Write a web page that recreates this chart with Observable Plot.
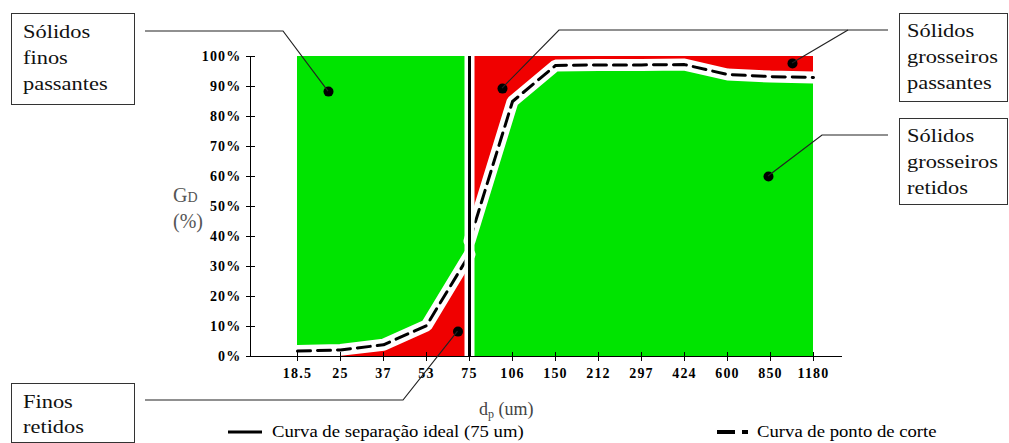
<!DOCTYPE html>
<html><head><meta charset="utf-8">
<script src="https://cdn.jsdelivr.net/npm/d3@7"></script>
<script src="https://cdn.jsdelivr.net/npm/@observablehq/plot@0.6"></script>
<style>body{margin:0;background:#fff} svg{display:block}</style>
</head><body><div id="chart"></div>
<script>
// Particle sizes (um) — categories of the x axis
const sizes = ["18.5","25","37","53","75","106","150","212","297","424","600","850","1180"];
// Fine side (d <= 75 um): cut-point curve values (fraction)
const fineSizes = ["18.5","25","37","53","75"];
const fineCut = [0.018, 0.022, 0.039, 0.103, 0.34];
// Coarse side (d >= 75 um)
const coarseSizes = ["75","106","150","212","297","424","600","850","1180"];
const coarseCut = [0.385, 0.85, 0.97, 0.972, 0.972, 0.973, 0.94, 0.933, 0.93];
// Ideal separation size
const idealSize = "75";
// Y tick values
const yTicks = [0, 0.1, 0.2, 0.3, 0.4, 0.5, 0.6, 0.7, 0.8, 0.9, 1];
// Annotation dot anchors
const dotSizes = ["18.5", "53", "106", "850", "850"];
const dotValues = [0.883, 0.083, 0.893, 0.977, 0.6];
const dotShift = [31, 31.5, -10, 22, -2];

const green = "#00e400", red = "#f00000";
const fine = fineSizes.map((s, i) => ({size: s, cut: fineCut[i]}));
const coarse = coarseSizes.map((s, i) => ({size: s, cut: coarseCut[i]}));
const dots = dotSizes.map((s, i) => ({size: s, v: dotValues[i], dx: dotShift[i]}));

const serif = "'Liberation Serif', 'Times New Roman', serif";
const plot = Plot.plot({
  width: 1009, height: 443,
  marginLeft: 250, marginRight: 167, marginTop: 56, marginBottom: 87,
  style: {fontFamily: serif, fontSize: "14px", fontWeight: "bold", letterSpacing: "1.2px", color: "#000", background: "#fff", overflow: "visible"},
  x: {type: "point", domain: sizes, range: [270, 840], label: null},
  y: {domain: [0, 1], label: null},
  marks: [
    Plot.areaY(fine, {x: "size", y1: 0, y2: "cut", fill: red}),
    Plot.areaY(fine, {x: "size", y1: "cut", y2: 1, fill: green}),
    Plot.areaY(coarse, {x: "size", y1: 0, y2: "cut", fill: green}),
    Plot.areaY(coarse, {x: "size", y1: "cut", y2: 1, fill: red}),
    Plot.line(fine, {x: "size", y: "cut", stroke: "white", strokeWidth: 12, strokeLinejoin: "miter"}),
    Plot.line(coarse, {x: "size", y: "cut", stroke: "white", strokeWidth: 12, strokeLinejoin: "miter"}),
    Plot.line(fine, {x: "size", y: "cut", stroke: "black", strokeWidth: 3, strokeDasharray: "13,7"}),
    Plot.line(coarse, {x: "size", y: "cut", stroke: "black", strokeWidth: 3, strokeDasharray: "13,7"}),
    Plot.ruleX([idealSize], {x: d => d, y1: 0, y2: 1, stroke: "white", strokeWidth: 10}),
    Plot.ruleX([idealSize], {x: d => d, y1: 0, y2: 1, stroke: "black", strokeWidth: 3}),
    ...dots.map(d => Plot.dot([d], {x: "size", y: "v", dx: d.dx, r: 5, fill: "black"})),
    Plot.ruleY([0], {stroke: "#000"}),
    Plot.axisY({ticks: yTicks, tickSize: 4, tickPadding: 5, tickFormat: d3.format(".0%"), stroke: "#000", label: null}),
    Plot.axisY({ticks: yTicks, tickSize: 5, dx: 5, tickFormat: () => "", stroke: "#000", label: null}),
    Plot.axisX({tickSize: 5, tickPadding: 7, stroke: "#000", label: null}),
    Plot.axisX({tickSize: 4, dy: -4, tickFormat: () => "", stroke: "#000", label: null})
  ]
});
document.getElementById("chart").appendChild(plot);

const svg = d3.select(plot);
const xs = plot.scale("x"), ys = plot.scale("y");
const dotPx = dots.map(d => [xs.apply(d.size) + d.dx, ys.apply(d.v)]);

// Y axis line (left edge of the frame)
svg.append("line").attr("x1", 250.5).attr("x2", 250.5).attr("y1", ys.apply(1)).attr("y2", ys.apply(0))
  .attr("stroke", "#000").attr("stroke-width", 1);

// Annotation boxes and callouts
const notes = [
  {lines: ["Sólidos", "finos", "passantes"], box: [11, 13, 123, 91], tx: 23, ty: [38, 64, 90], path: [[[145, 31], [283, 31], 0]]},
  {lines: ["Finos", "retidos"], box: [11, 383, 123, 59], tx: 23, ty: [408, 433], path: [[[145, 400], [403, 400], 1]]},
  {lines: ["Sólidos", "grosseiros", "passantes"], box: [899, 13, 108, 88], tx: 907, ty: [37, 63, 89], path: [[[888, 30], [559, 30], 2], [[848, 30], 3]]},
  {lines: ["Sólidos", "grosseiros", "retidos"], box: [899, 118, 108, 86], tx: 907, ty: [142, 168, 194], path: [[[888, 135], [822, 135], 4]]}
];
const g = svg.append("g").attr("font-family", serif).attr("font-size", 19).attr("font-weight", "normal")
  .attr("letter-spacing", 0).attr("text-anchor", "start").attr("fill", "#111");
for (const n of notes) {
  g.append("rect").attr("x", n.box[0] + 0.5).attr("y", n.box[1] + 0.5).attr("width", n.box[2]).attr("height", n.box[3])
    .attr("fill", "white").attr("stroke", "#333").attr("stroke-width", 1);
  n.lines.forEach((l, i) => g.append("text").attr("transform", `translate(${n.tx},${n.ty[i]}) scale(1.18,1)`).text(l));
  for (const p of n.path) {
    const pts = p.slice(0, -1).concat([dotPx[p[p.length - 1]]]);
    g.append("polyline").attr("points", pts.map(q => q.join(",")).join(" "))
      .attr("fill", "none").attr("stroke", "#222").attr("stroke-width", 1.2);
  }
}

// Axis titles
const tg = svg.append("g").attr("font-family", serif).attr("font-weight", "normal").attr("letter-spacing", 0).attr("text-anchor", "start");
const yt = tg.append("text").attr("fill", "#555").attr("font-size", 20);
yt.append("tspan").attr("x", 173).attr("y", 202).text("G");
yt.append("tspan").attr("font-size", 14).text("D");
tg.append("text").attr("fill", "#555").attr("font-size", 20).attr("x", 173).attr("y", 228).text("(%)");
const xt = tg.append("text").attr("fill", "#444").attr("font-size", 18).attr("x", 479).attr("y", 415);
xt.append("tspan").text("d");
xt.append("tspan").attr("font-size", 12).attr("dy", 3).text("p");
xt.append("tspan").attr("dy", -3).text(" (um)");

// Legend
const lg = svg.append("g").attr("font-family", serif).attr("font-size", 17).attr("font-weight", "normal")
  .attr("letter-spacing", 0).attr("text-anchor", "start").attr("fill", "#000");
lg.append("line").attr("x1", 228).attr("x2", 262).attr("y1", 432).attr("y2", 432).attr("stroke", "black").attr("stroke-width", 3);
lg.append("text").attr("transform", "translate(272,437) scale(1.1,1)").text("Curva de separação ideal (75 um)");
lg.append("line").attr("x1", 717).attr("x2", 748).attr("y1", 432).attr("y2", 432).attr("stroke", "black").attr("stroke-width", 4).attr("stroke-dasharray", "18,7");
lg.append("text").attr("transform", "translate(757,437) scale(1.1,1)").text("Curva de ponto de corte");
</script></body></html>
